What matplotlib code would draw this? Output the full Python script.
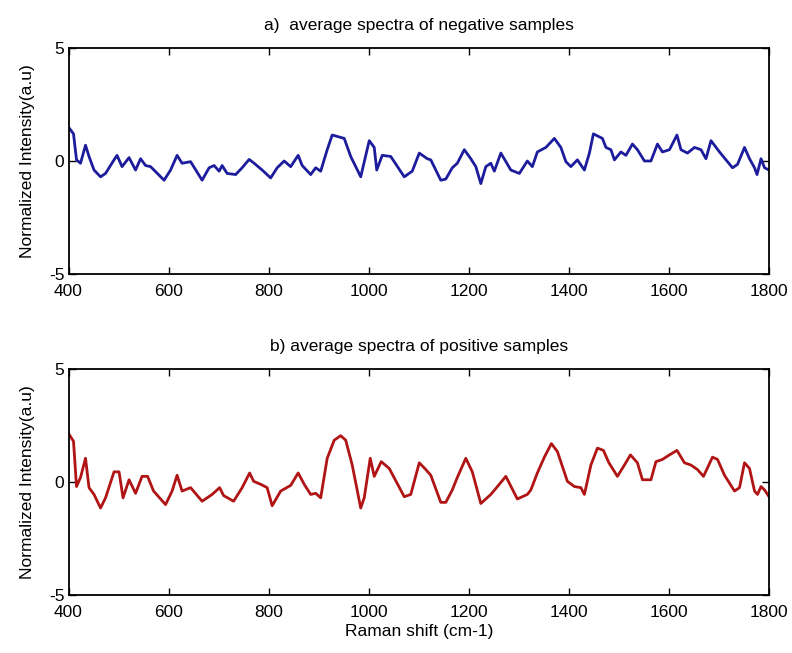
import matplotlib
matplotlib.use("Agg")
import matplotlib.pyplot as plt
import numpy as np

plt.rcParams['font.family'] = ['Liberation Sans', 'DejaVu Sans']
plt.rcParams['axes.unicode_minus'] = False

# Raman shift (cm-1) and normalized intensity
neg_x = [400, 410, 416, 424, 434, 441, 451, 464, 474, 491, 497, 507, 521, 534, 544, 554, 564,
         591, 604, 617, 627, 644, 667, 681, 691, 701, 707, 717, 734, 747, 761, 771, 787, 804,
         817, 831, 844, 859, 867, 884, 894, 904, 917, 927, 951, 964, 984, 1001, 1011, 1016,
         1027, 1044, 1071, 1087, 1101, 1117, 1124, 1144, 1154, 1167, 1177, 1191, 1204, 1214,
         1224, 1234, 1244, 1251, 1264, 1284, 1301, 1317, 1327, 1337, 1354, 1371, 1384, 1394,
         1404, 1417, 1431, 1441, 1449, 1467, 1474, 1484, 1491, 1504, 1514, 1527, 1537, 1551,
         1564, 1577, 1587, 1601, 1616, 1624, 1637, 1651, 1664, 1674, 1684, 1701, 1714, 1727,
         1737, 1751, 1761, 1771, 1776, 1784, 1791, 1800]
neg_y = [1.5, 1.2, 0.05, -0.1, 0.7, 0.2, -0.4, -0.7, -0.55, 0.05, 0.25, -0.25, 0.15, -0.4, 0.1,
         -0.2, -0.25, -0.85, -0.4, 0.25, -0.1, -0.03, -0.85, -0.3, -0.2, -0.45, -0.2, -0.55,
         -0.6, -0.3, 0.07, -0.1, -0.4, -0.75, -0.3, 0.0, -0.25, 0.25, -0.2, -0.6, -0.3, -0.45,
         0.5, 1.15, 1.0, 0.2, -0.7, 0.9, 0.6, -0.4, 0.25, 0.2, -0.7, -0.45, 0.35, 0.1, 0.05,
         -0.85, -0.8, -0.3, -0.1, 0.5, 0.1, -0.25, -1.0, -0.25, -0.1, -0.45, 0.35, -0.4, -0.55,
         0.0, -0.25, 0.4, 0.6, 1.0, 0.6, -0.03, -0.25, 0.05, -0.4, 0.35, 1.2, 1.0, 0.6, 0.5,
         0.05, 0.4, 0.25, 0.75, 0.5, 0.0, 0.0, 0.75, 0.4, 0.5, 1.15, 0.5, 0.35, 0.6, 0.5, 0.1,
         0.9, 0.4, 0.05, -0.3, -0.15, 0.6, 0.1, -0.3, -0.6, 0.1, -0.3, -0.4]

pos_x = [400, 410, 416, 424, 434, 441, 451, 464, 474, 491, 501, 509, 521, 534, 547, 558, 570,
         594, 607, 617, 627, 644, 667, 687, 702, 710, 730, 747, 762, 770, 784, 797, 807, 824,
         844, 859, 871, 884, 894, 904, 917, 931, 944, 954, 967, 984, 991, 1003, 1011, 1025,
         1041, 1071, 1084, 1101, 1112, 1124, 1144, 1154, 1167, 1177, 1194, 1207, 1224, 1244,
         1261, 1274, 1297, 1317, 1324, 1337, 1351, 1365, 1377, 1397, 1411, 1424, 1431, 1444,
         1457, 1469, 1480, 1497, 1511, 1523, 1537, 1547, 1564, 1574, 1587, 1601, 1616, 1631,
         1644, 1657, 1669, 1687, 1697, 1711, 1731, 1741, 1751, 1761, 1771, 1777, 1784, 1791, 1800]
pos_y = [2.15, 1.8, -0.2, 0.2, 1.05, -0.25, -0.55, -1.15, -0.7, 0.45, 0.45, -0.7, 0.1, -0.5,
         0.25, 0.25, -0.4, -1.0, -0.4, 0.3, -0.4, -0.25, -0.85, -0.55, -0.25, -0.6, -0.85,
         -0.25, 0.4, 0.03, -0.1, -0.25, -1.05, -0.4, -0.15, 0.4, -0.1, -0.55, -0.5, -0.7, 1.05,
         1.85, 2.05, 1.85, 0.75, -1.15, -0.7, 1.05, 0.25, 0.9, 0.6, -0.65, -0.55, 0.85, 0.6,
         0.3, -0.9, -0.9, -0.35, 0.2, 1.05, 0.45, -0.95, -0.55, -0.1, 0.25, -0.75, -0.55, -0.35,
         0.4, 1.1, 1.7, 1.35, 0.03, -0.2, -0.25, -0.55, 0.75, 1.5, 1.4, 0.85, 0.25, 0.75, 1.2,
         0.85, 0.1, 0.1, 0.9, 1.0, 1.2, 1.4, 0.85, 0.75, 0.55, 0.25, 1.1, 1.0, 0.3, -0.4, -0.25,
         0.85, 0.6, -0.4, -0.55, -0.2, -0.35, -0.65]

xticks = [400, 600, 800, 1000, 1200, 1400, 1600, 1800]
yticks = [-5, 0, 5]

fig = plt.figure(figsize=(7.92, 6.53), dpi=100)
ax1 = fig.add_axes([0.0865, 0.5804, 0.8845, 0.3461])
ax2 = fig.add_axes([0.0865, 0.0888, 0.8845, 0.3461])

for ax, x, y, col, title in [
        (ax1, neg_x, neg_y, '#1c1c9c', 'a)  average spectra of negative samples'),
        (ax2, pos_x, pos_y, '#b01414', 'b) average spectra of positive samples')]:
    ax.plot(x, y, color=col, lw=2.0)
    ax.set_xlim(400, 1800)
    ax.set_ylim(-5, 5)
    ax.set_xticks(xticks)
    ax.set_yticks(yticks)
    ax.tick_params(direction='in', top=True, right=True, labelsize=12.5, length=5, width=1.0)
    ax.tick_params(axis='x', pad=7)
    ax.tick_params(axis='y', pad=3)
    for s in ax.spines.values():
        s.set_linewidth(1.3)
    ax.set_ylabel('Normalized Intensity(a.u)', fontsize=12.5, labelpad=10)
    ax.set_title(title, fontsize=12.5, pad=13)

ax2.set_xlabel('Raman shift (cm-1)', fontsize=12.5, labelpad=3)

fig.savefig('out.png', dpi=100)
